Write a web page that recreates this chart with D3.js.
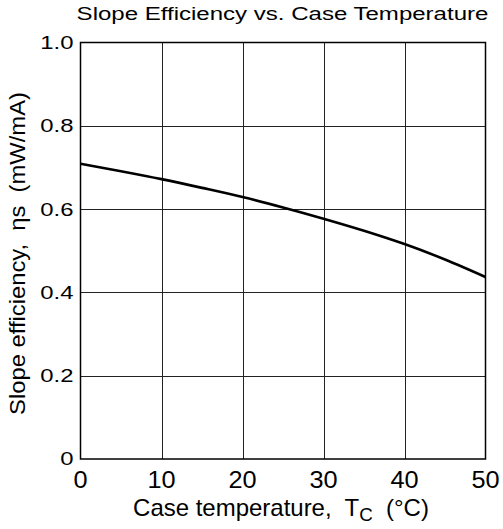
<!DOCTYPE html>
<html lang="en">
<head>
  <meta charset="UTF-8">
  <script src="https://d3js.org/d3.v7.min.js"></script>
  <title>Slope Efficiency vs. Case Temperature</title>
  <style>
    body {
      margin: 0;
      background: #fff;
      overflow: hidden;
    }
    text {
      font-family: "Liberation Sans", Arial, sans-serif;
      fill: #000;
    }
  </style>
</head>
<body>
<script>
  // Data
  const temps = [0, 5, 10, 15, 20, 25, 30, 35, 40, 45, 50];
  const efficiency = [0.709, 0.691, 0.672, 0.651, 0.629, 0.604, 0.577, 0.548, 0.516, 0.479, 0.437];
  const xTicks = [0, 10, 20, 30, 40, 50];
  const yTicks = [0, 0.2, 0.4, 0.6, 0.8, 1.0];

  const width = 503;
  const height = 529;
  const margin = { top: 42.5, right: 17.5, bottom: 70, left: 80.5 };

  const svg = d3.select("body").append("svg")
    .attr("width", width)
    .attr("height", height);

  const x = d3.scaleLinear().domain([0, 50]).range([margin.left, width - margin.right]);
  const y = d3.scaleLinear().domain([0, 1]).range([height - margin.bottom, margin.top]);

  // stretch a text horizontally so it matches the target width
  function stretch(sel, target, ax, ay) {
    const w = sel.node().getBBox().width;
    const k = target / w;
    sel.attr("transform", `translate(${ax},${ay}) scale(${k},1) translate(${-ax},${-ay})`);
  }

  // grid
  const grid = svg.append("g");
  grid.selectAll(".vx")
    .data(xTicks.slice(1, -1))
    .enter().append("line")
    .attr("x1", d => Math.round(x(d)) + 0.5).attr("x2", d => Math.round(x(d)) + 0.5)
    .attr("y1", y(0)).attr("y2", y(1))
    .attr("stroke", "#222").attr("stroke-width", 1);
  grid.selectAll(".hy")
    .data(yTicks.slice(1, -1))
    .enter().append("line")
    .attr("x1", x(0)).attr("x2", x(50))
    .attr("y1", d => Math.round(y(d)) + 0.5).attr("y2", d => Math.round(y(d)) + 0.5)
    .attr("stroke", "#222").attr("stroke-width", 1);

  // frame
  svg.append("rect")
    .attr("x", x(0)).attr("y", y(1))
    .attr("width", x(50) - x(0)).attr("height", y(0) - y(1))
    .attr("fill", "none").attr("stroke", "#000").attr("stroke-width", 1.5);

  // curve
  const line = d3.line()
    .x((d, i) => x(temps[i]))
    .y(d => y(d))
    .curve(d3.curveMonotoneX);
  svg.append("path")
    .datum(efficiency)
    .attr("d", line)
    .attr("fill", "none")
    .attr("stroke", "#000")
    .attr("stroke-width", 2.6);

  // y tick labels
  svg.selectAll(".ylab")
    .data(yTicks)
    .enter().append("text")
    .attr("x", x(0) - 7)
    .attr("y", d => y(d) + 6.5)
    .attr("text-anchor", "end")
    .style("font-size", "17.7px")
    .text(d => d === 0 ? "0" : d.toFixed(1))
    .each(function () {
      const w = this.getBBox().width;
      stretch(d3.select(this), w * 1.35, x(0) - 7, 0);
    });

  // x tick labels
  svg.selectAll(".xlab")
    .data(xTicks)
    .enter().append("text")
    .attr("x", d => x(d))
    .attr("y", y(0) + 29)
    .attr("text-anchor", "middle")
    .style("font-size", "23px")
    .text(d => d)
    .each(function (d) {
      const w = this.getBBox().width;
      stretch(d3.select(this), w * 1.1, x(d), 0);
    });

  // title
  const title = svg.append("text")
    .attr("x", 282.5)
    .attr("y", 20)
    .attr("text-anchor", "middle")
    .style("font-size", "18.5px")
    .text("Slope Efficiency vs. Case Temperature");
  stretch(title, 412, 282.5, 20);

  // x axis title
  const xTitle = svg.append("text")
    .attr("x", 281)
    .attr("y", 516)
    .attr("text-anchor", "middle")
    .style("font-size", "23px")
    .attr("xml:space", "preserve");
  xTitle.append("tspan").text("Case temperature,  T");
  xTitle.append("tspan").attr("dy", 5).style("font-size", "18px").text("C");
  xTitle.append("tspan").attr("dy", -5).text("  (°C)");
  stretch(xTitle, 296, 281, 516);

  // y axis title
  const yTitle = svg.append("text")
    .attr("x", 0)
    .attr("y", 0)
    .attr("text-anchor", "middle")
    .attr("transform", "translate(25,253.5) rotate(-90)")
    .style("font-size", "22px")
    .attr("xml:space", "preserve")
    .text("Slope efficiency,  ηs  (mW/mA)");
  const yw = yTitle.node().getBBox().width;
  yTitle.attr("transform", `translate(25,253.5) rotate(-90) scale(${323 / yw},1)`);
</script>
</body>
</html>
